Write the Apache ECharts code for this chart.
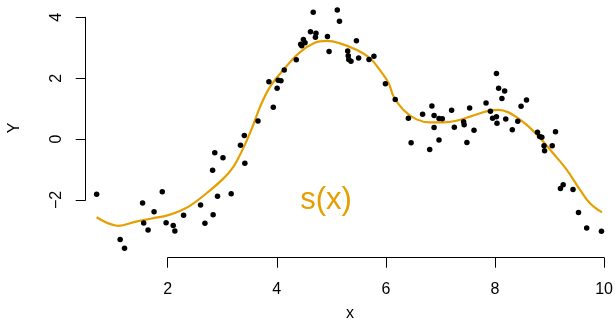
<!DOCTYPE html>
<html>
<head>
<meta charset="utf-8">
<script src="https://cdn.jsdelivr.net/npm/echarts@6/dist/echarts.min.js"></script>
<style>html,body{margin:0;padding:0;background:#fff;}#c{width:616px;height:321px;}</style>
</head>
<body>
<div id="c"></div>
<script>
// Scatter points (x, y)
var pointX = [0.70,1.13,1.21,1.54,1.56,1.64,1.75,1.90,1.97,2.10,2.13,2.29,2.60,2.68,2.82,2.83,2.86,2.91,3.01,3.16,
  3.33,3.40,3.41,3.65,3.85,3.93,4.00,4.02,4.07,4.13,4.35,4.43,4.45,4.48,4.51,4.61,4.66,4.70,4.71,4.92,
  4.95,5.10,5.14,5.29,5.30,5.31,5.35,5.45,5.49,5.68,5.77,5.98,6.16,6.40,6.45,6.66,6.79,6.83,6.87,6.87,
  6.96,6.96,7.02,7.19,7.24,7.41,7.42,7.47,7.52,7.60,7.82,7.90,7.94,8.01,8.01,8.02,8.05,8.11,8.16,8.18,
  8.30,8.40,8.46,8.56,8.76,8.80,8.84,8.88,8.89,9.03,9.09,9.18,9.23,9.41,9.51,9.66,9.93];
var pointY = [-1.83,-3.32,-3.61,-2.12,-2.78,-3.01,-2.41,-1.75,-2.77,-2.86,-3.04,-2.52,-2.19,-2.79,-1.04,-2.51,-0.47,-1.90,-0.63,-1.82,
  -0.22,0.10,-0.81,0.58,1.87,1.03,1.65,1.92,1.90,2.25,2.59,3.10,3.05,3.26,3.15,3.51,4.15,3.33,3.46,3.36,
  2.86,4.23,3.86,2.88,2.72,2.60,2.54,3.22,2.65,2.60,2.71,1.80,1.28,0.67,-0.14,0.80,-0.36,1.07,0.76,0.36,
  -0.05,0.66,0.65,0.93,0.37,0.55,0.45,-0.13,1.00,0.27,1.17,0.90,0.67,0.72,2.14,0.50,1.65,1.32,1.56,0.64,
  0.29,0.57,1.06,1.27,0.21,0.07,0.04,-0.24,-0.40,-0.24,0.22,-1.64,-1.52,-1.68,-2.43,-2.94,-3.05];
// Smooth curve s(x)
var curveX = [0.70,1.10,1.40,1.71,2.01,2.26,2.41,2.71,3.02,3.20,3.38,3.54,3.69,3.87,4.11,4.42,4.69,4.91,5.15,5.46,
  5.70,5.88,6.04,6.13,6.31,6.55,6.80,7.04,7.29,7.53,7.86,8.05,8.23,8.41,8.60,8.81,9.05,9.30,9.54,9.72,9.94];
var curveY = [-2.59,-2.87,-2.74,-2.63,-2.52,-2.35,-2.21,-1.80,-1.31,-0.93,-0.32,0.34,1.05,1.70,2.25,2.84,3.15,3.21,3.13,2.91,
  2.64,2.25,1.82,1.38,0.94,0.63,0.53,0.53,0.59,0.72,0.91,0.94,0.86,0.66,0.39,0.01,-0.49,-1.04,-1.69,-2.13,-2.43];
// Tick labels
var xTicks = [2,4,6,8,10];
var yTicks = [-2,0,2,4];

var FONT = '"Liberation Sans", Arial, sans-serif';
var ORANGE = '#E69F00';
var pts = pointX.map(function(x,i){return [x, pointY[i]];});
var crv = curveX.map(function(x,i){return [x, curveY[i]];});

var chart = echarts.init(document.getElementById('c'), null, {renderer:'canvas'});
chart.setOption({
  animation:false,
  backgroundColor:'#ffffff',
  grid:[
    {left:85.7, right:1.7, top:7.8, bottom:63.3},
    {left:167.7, right:10.7, bottom:63.3, height:20},
    {left:85.7, width:20, top:17.3, bottom:121}
  ],
  xAxis:[
    {gridIndex:0, type:'value', min:0.5, max:10.165, show:false},
    {gridIndex:1, type:'value', min:xTicks[0], max:xTicks[xTicks.length-1], interval:2, position:'bottom',
      splitLine:{show:false},
      axisLine:{show:true, lineStyle:{color:'#000', width:1}},
      axisTick:{show:true, inside:false, length:10, lineStyle:{color:'#000', width:1}},
      axisLabel:{show:true, margin:24, color:'#000', fontSize:16, fontFamily:FONT,
        formatter:function(v){return xTicks.indexOf(v)>=0 ? String(v) : '';}}
    },
    {gridIndex:2, type:'value', min:0, max:1, show:false}
  ],
  yAxis:[
    {gridIndex:0, type:'value', min:-3.92, max:4.3, show:false},
    {gridIndex:1, type:'value', min:0, max:1, show:false},
    {gridIndex:2, type:'value', min:yTicks[0], max:yTicks[yTicks.length-1], interval:2, position:'left',
      splitLine:{show:false},
      axisLine:{show:true, lineStyle:{color:'#000', width:1}},
      axisTick:{show:true, inside:false, length:10, lineStyle:{color:'#000', width:1}},
      axisLabel:{show:true, rotate:90, margin:21, color:'#000', fontSize:16, fontFamily:FONT,
        formatter:function(v){return yTicks.indexOf(v)>=0 ? (v<0 ? '\u2212'+Math.abs(v) : String(v)) : '';}}
    }
  ],
  series:[
    {type:'line', xAxisIndex:0, yAxisIndex:0, data:crv, smooth:0.4, showSymbol:false, clip:false,
      lineStyle:{color:ORANGE, width:2.2}, z:2},
    {type:'scatter', xAxisIndex:0, yAxisIndex:0, data:pts, symbol:'circle', symbolSize:5.5, clip:false,
      itemStyle:{color:'#000', opacity:1}, z:3}
  ],
  graphic:[
    {type:'text', x:350, y:314, style:{text:'x', fill:'#000', font:'16px '+FONT, textAlign:'center', textVerticalAlign:'middle'}},
    {type:'text', x:15, y:128, rotation:Math.PI/2, style:{text:'Y', fill:'#000', font:'16px '+FONT, textAlign:'center', textVerticalAlign:'middle'}},
    {type:'text', x:326, y:200, style:{text:'s(x)', fill:ORANGE, font:'31px '+FONT, textAlign:'center', textVerticalAlign:'middle'}}
  ]
});
</script>
</body>
</html>
